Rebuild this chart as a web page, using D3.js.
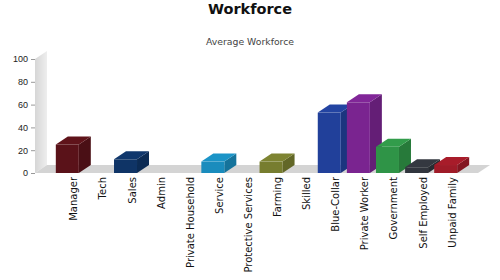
<!DOCTYPE html>
<html>
<head>
<meta charset="utf-8">
<script src="https://cdn.jsdelivr.net/npm/d3@7"></script>
<style>
    body { margin: 0; background: #fff; }
    svg { display: block; font-family: "DejaVu Sans", Verdana, sans-serif; }
    .axis .domain { display: none; }
    .axis line { stroke: #999; }
    .axis text { fill: #222; font-size: 9px; }
    .cat-label { font-size: 10px; fill: #111; }
</style>
</head>
<body>
<svg id="chart"></svg>
<script>
// data
const categories = ["Manager", "Tech", "Sales", "Admin", "Private Household", "Service",
    "Protective Services", "Farming", "Skilled", "Blue-Collar", "Private Worker",
    "Government", "Self Employed", "Unpaid Family"];
const values = [25, 0, 12, 0, 0, 10, 0, 10, 0, 53, 62, 23, 5, 7];
const yTicks = [0, 20, 40, 60, 80, 100];
const title = "Workforce";
const subtitle = "Average Workforce";

// one colour per category
const palette = ["#5a1219", "#6d6d6d", "#0f3466", "#6d6d6d", "#6d6d6d", "#1a8cbd",
    "#6d6d6d", "#777d2f", "#6d6d6d", "#21409a", "#7a2490", "#2f9447", "#31353d", "#9f1b28"];

class Bar3D {
    constructor(data, config){
        this.parent = config.parent;
        this.width = config.width;
        this.height = config.height;
        // depth of the fake 3d look
        this.depth = {dx: 12, dy: -8};
        this.plot = {left: 35, right: 478, top: 59, bottom: 173};
        this.data = data;
        this.initVis();
    }

    initVis(){
        let vis = this;

        vis.svg = d3.select(vis.parent)
            .attr('width', vis.width)
            .attr('height', vis.height);

        vis.yScale = d3.scaleLinear()
            .domain([0, 100])
            .range([vis.plot.bottom, vis.plot.top]);

        vis.xScale = d3.scaleBand()
            .domain(categories)
            .range([vis.plot.left, vis.plot.right])
            .paddingInner(0.21)
            .paddingOuter(0.715);

        vis.color = d3.scaleOrdinal()
            .domain(categories)
            .range(palette);

        vis.yAxis = d3.axisLeft(vis.yScale)
            .tickValues(yTicks)
            .tickSize(4)
            .tickPadding(3);

        // gradient for the back wall
        let grad = vis.svg.append('defs').append('linearGradient')
            .attr('id', 'wallGrad')
            .attr('x1', '0%').attr('x2', '100%');
        grad.append('stop').attr('offset', '0%').attr('stop-color', '#d6d6d6');
        grad.append('stop').attr('offset', '100%').attr('stop-color', '#eeeeee');
    }

    renderVis(){
        let vis = this;
        let {dx, dy} = vis.depth;
        let y0 = vis.yScale(0);
        let yTop = vis.yScale(100);
        let left = vis.plot.left, right = vis.plot.right;

        vis.svg.append('text')
            .attr('x', vis.width / 2)
            .attr('y', 14)
            .attr('text-anchor', 'middle')
            .attr('font-size', '14.5px')
            .attr('font-weight', 'bold')
            .attr('fill', '#111')
            .text(title);

        vis.svg.append('text')
            .attr('x', vis.width / 2)
            .attr('y', 45)
            .attr('text-anchor', 'middle')
            .attr('font-size', '9.3px')
            .attr('fill', '#444')
            .text(subtitle);

        // wall and floor
        vis.svg.append('polygon')
            .attr('points', [[left, y0], [left, yTop], [left + dx, yTop + dy], [left + dx, y0 + dy]].join(' '))
            .attr('fill', 'url(#wallGrad)');

        vis.svg.append('polygon')
            .attr('points', [[left, y0], [left + dx, y0 + dy], [right + dx, y0 + dy], [right, y0]].join(' '))
            .attr('fill', '#d4d4d4');

        vis.svg.append('g')
            .attr('class', 'axis y-axis')
            .attr('transform', `translate(${left},0)`)
            .call(vis.yAxis);

        let bw = vis.xScale.bandwidth();
        let bars = vis.svg.selectAll('.bar')
            .data(vis.data.filter(d => d.value > 0))
            .enter()
            .append('g')
            .attr('class', 'bar');

        // side face
        bars.append('polygon')
            .attr('points', d => {
                let x = vis.xScale(d.cat) + bw, y = vis.yScale(d.value);
                return [[x, y], [x + dx, y + dy], [x + dx, y0 + dy], [x, y0]].join(' ');
            })
            .attr('fill', d => d3.color(vis.color(d.cat)).darker(0.55));

        // top face
        bars.append('polygon')
            .attr('points', d => {
                let x = vis.xScale(d.cat), y = vis.yScale(d.value);
                return [[x, y], [x + dx, y + dy], [x + bw + dx, y + dy], [x + bw, y]].join(' ');
            })
            .attr('fill', d => d3.color(vis.color(d.cat)).brighter(0.15));

        // front face
        bars.append('rect')
            .attr('x', d => vis.xScale(d.cat))
            .attr('y', d => vis.yScale(d.value))
            .attr('width', bw)
            .attr('height', d => y0 - vis.yScale(d.value))
            .attr('fill', d => vis.color(d.cat));

        // rotated category labels, centred on the bar including its depth
        vis.svg.selectAll('.cat-label')
            .data(vis.data)
            .enter()
            .append('text')
            .attr('class', 'cat-label')
            .attr('text-anchor', 'end')
            .attr('transform', d => {
                let cx = vis.xScale(d.cat) + bw / 2 + dx / 2 + 4;
                return `translate(${cx},${y0 + 4}) rotate(-90)`;
            })
            .text(d => d.cat);
    }
}

const data = categories.map((c, i) => ({cat: c, value: values[i]}));
const chart = new Bar3D(data, {parent: '#chart', width: 500, height: 280});
chart.renderVis();
</script>
</body>
</html>
